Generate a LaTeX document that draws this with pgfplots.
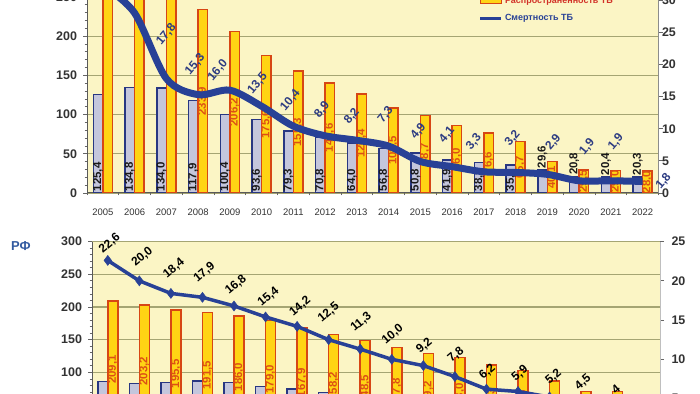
\documentclass[border=0pt]{standalone}
\usepackage{pgfplots}
\pgfplotsset{compat=1.18}
\usepackage{pgfplotstable}
\usepackage{fontspec}
\setmainfont{Liberation Sans}

\definecolor{bgyellow}{RGB}{251,245,197}
\definecolor{gridc}{RGB}{165,165,115}
\definecolor{greyfill}{RGB}{196,198,220}
\definecolor{barblue}{RGB}{40,55,130}
\definecolor{yelfill}{RGB}{255,212,20}
\definecolor{yelborder}{RGB}{215,70,20}
\definecolor{yellabel}{RGB}{220,80,20}
\definecolor{lineblue}{RGB}{40,65,150}
\definecolor{lblblue}{RGB}{45,60,130}
\definecolor{tickc}{RGB}{50,50,50}
\definecolor{rfblue}{RGB}{50,90,160}
\definecolor{redtext}{RGB}{210,50,40}

\pgfplotstableread{
x inc prev
0 125.4 296.9
1 134.8 277.5
2 134.0 261.3
3 117.9 233.9
4 100.4 206.2
5 93.6 175.6
6 79.3 155.3
7 70.8 140.6
8 64.0 126.4
9 56.8 108.5
10 50.8 98.7
11 41.9 86.0
12 38.8 76.6
13 35.9 65.7
14 29.6 40.1
15 20.8 29.5
16 20.4 29.0
17 20.3 28.0
}\topbars

\pgfplotstableread{
x y dx dy label
0 32.3 0 30 32,3
1 28.0 0 30 28,0
2 17.8 0 44 17,8
3 15.3 -3 30 15,3
4 16.0 -12 20 16,0
5 13.5 -4 23 13,5
6 10.4 -3 26 10,4
7 8.9 -3 26 8,9
8 8.2 -5 24 8,2
9 7.3 -3 31 7,3
10 4.9 -2 30 4,9
11 4.1 -5 32 4,1
12 3.3 -10 30 3,3
13 3.2 -3 34 3,2
14 2.9 6 32 2,9
15 1.9 8 34 1,9
16 1.9 5 39 1,9
17 1.8 21 0 1,8
}\topline

\pgfplotstableread{
x inc prev
0 85.8 209.1
1 83.3 203.2
2 84.9 195.5
3 86.9 191.5
4 84.3 186.0
5 78.2 179.0
6 74.6 167.9
7 69.0 158.2
8 63.0 148.5
9 59.0 137.8
10 57.0 129.2
11 53.0 123.0
12 48.0 111.3
13 44.0 102.6
14 41.0 86.9
15 32.0 70.5
16 31.0 70.5
}\botbars

\pgfplotstableread{
x y dx dy label
0 22.6 2 17 22,6
1 20.0 3 24 20,0
2 18.4 3 25 18,4
3 17.9 2 25 17,9
4 16.8 2 21 16,8
5 15.4 3 20 15,4
6 14.2 3 20 14,2
7 12.5 0 27 12,5
8 11.3 1 27 11,3
9 10.0 1 25 10,0
10 9.2 1 20 9,2
11 7.8 1 22 7,8
12 6.2 1 17 6,2
13 5.9 2 18 5,9
14 5.2 4 20 5,2
15 4.5 2 20 4,5
16 4.0 3 17 4
}\botline

\pgfplotsset{
  chartbase/.style={
    scale only axis, anchor=south west,
    xmin=-0.5, xmax=17.5,
    /pgf/number format/assume math mode=true,
    tick label style={text=tickc},
    yticklabel style={font=\bfseries\fontsize{12.5}{12.5}\selectfont},
    tick align=outside, major tick length=4bp, minor tick length=2.5bp,
    tick style={draw=black!60, line width=0.8bp},
  },
}

\begin{document}
\begin{tikzpicture}
\path[use as bounding box] (0,0) rectangle (700bp,394bp);
\clip (0,0) rectangle (700bp,394bp);

% ---------------- top chart, left axis (bars)
\begin{axis}[chartbase, at={(87bp,201bp)}, width=571.5bp, height=196bp,
  ymin=0, ymax=250, ytick={0,50,...,250}, minor y tick num=4,
  axis background/.style={fill=bgyellow},
  axis x line*=bottom, axis y line*=left,
  axis line style={-, draw=black!65, line width=1bp},
  ymajorgrids, major grid style={draw=gridc, line width=1.2bp},
  xtick={0,...,17},
  xticklabels={2005,2006,2007,2008,2009,2010,2011,2012,2013,2014,2015,2016,2017,2018,2019,2020,2021,2022},
  major x tick style={draw=none}, minor xtick={-0.5,0.5,...,17.5},
  xticklabel style={font=\fontsize{9.5}{9.5}\selectfont, yshift=-8bp},
  yticklabel style={xshift=-2.5bp},
  ybar=0pt, bar width=9.5bp,
]
\addplot[fill=greyfill, draw=barblue, line width=1.5bp,
  point meta=y,
  nodes near coords={\pgfmathprintnumber[fixed,fixed zerofill,precision=1,use comma]{\pgfplotspointmeta}},
  visualization depends on={y \as \rawy},
  every node near coord/.append style={font=\bfseries\fontsize{11.5}{11.5}\selectfont, text=black!90, inner sep=1bp, anchor=west, shift={(axis direction cs:0,{-\rawy*(\rawy>30)})}, rotate=90},
] table[x=x, y=inc] {\topbars};
\addplot[fill=yelfill, draw=yelborder, line width=1.5bp,
  point meta=y,
  nodes near coords={\pgfmathprintnumber[fixed,fixed zerofill,precision=1,use comma]{\pgfplotspointmeta}},
  visualization depends on={y \as \rawy},
  every node near coord/.append style={font=\bfseries\fontsize{11.5}{11.5}\selectfont, text=yellabel, inner sep=1bp, anchor=center, shift={(axis direction cs:0,-\rawy/2)}, rotate=90},
] table[x=x, y=prev] {\topbars};
\end{axis}

% ---------------- top chart, right axis (line)
\begin{axis}[chartbase, at={(87bp,201bp)}, width=571.5bp, height=196bp,
  ymin=0, ymax=30.5, ytick={0,5,...,30},
  axis x line=none, axis y line*=right,
  axis line style={-, draw=black!45, line width=0.8bp},
  yticklabel style={xshift=-4bp},
  legend style={draw=none, fill=none, at={(0.6795,0.85)}, anchor=south west,
    font=\bfseries\fontsize{9}{9}\selectfont, row sep=5.5bp},
  legend cell align=left,
]
\addlegendimage{legend image code/.code={\draw[fill=greyfill,draw=barblue,line width=1bp] (0bp,-3bp) rectangle (21bp,3bp);}}
\addlegendentry[text=barblue]{Заболеваемость ТБ}
\addlegendimage{legend image code/.code={\draw[fill=yelfill,draw=yelborder,line width=1bp] (0bp,-2.5bp) rectangle (21bp,2.5bp);}}
\addlegendentry[text=redtext]{Распространенность ТБ}
\addplot[draw=lineblue, line width=7bp, smooth, tension=0.5,
  point meta=explicit symbolic, nodes near coords,
  visualization depends on={\thisrow{dx} \as \ldx},
  visualization depends on={\thisrow{dy} \as \ldy},
  every node near coord/.append style={anchor=center, xshift=\ldx bp, yshift=\ldy bp, rotate=50,
     font=\bfseries\fontsize{12}{12}\selectfont, text=lblblue, inner sep=0pt},
  legend image code/.code={\draw[line width=3.5bp, lineblue] (0bp,0bp) -- (21bp,0bp);},
] table[x=x, y=y, meta=label] {\topline};
\addlegendentry[text=lineblue]{Смертность ТБ}
\end{axis}

% ---------------- bottom chart, left axis (bars)
\begin{axis}[chartbase, at={(92bp,-43.8bp)}, width=568bp, height=196.2bp,
  ymin=0, ymax=300, ytick={0,50,...,300}, minor y tick num=4,
  axis background/.style={fill=bgyellow},
  axis x line*=bottom, axis y line*=left,
  axis line style={-, draw=black!65, line width=1bp},
  ymajorgrids, major grid style={draw=gridc, line width=1.2bp},
  xtick=\empty,
  yticklabel style={xshift=-2.5bp},
  ybar=0pt, bar width=10bp,
]
\addplot[fill=greyfill, draw=barblue, line width=1.5bp] table[x=x, y=inc] {\botbars};
\addplot[fill=yelfill, draw=yelborder, line width=1.5bp,
  point meta=y,
  nodes near coords={\pgfmathprintnumber[fixed,fixed zerofill,precision=1,use comma]{\pgfplotspointmeta}},
  visualization depends on={y \as \rawy},
  every node near coord/.append style={font=\bfseries\fontsize{11.5}{11.5}\selectfont, text=yellabel, inner sep=1bp, anchor=center, shift={(axis direction cs:0,-\rawy/2)}, rotate=90},
] table[x=x, y=prev] {\botbars};
\end{axis}

% ---------------- bottom chart, right axis (line)
\begin{axis}[chartbase, at={(92bp,-43.8bp)}, width=568bp, height=196.2bp,
  ymin=0, ymax=25, ytick={0,5,...,25},
  axis x line=none, axis y line*=right,
  axis line style={-, draw=black!25, line width=0.8bp},
  yticklabel style={xshift=4bp},
]
\addplot[draw=lineblue, line width=3.5bp, mark=diamond*, mark size=5bp,
  mark options={fill=lineblue, draw=lineblue, line width=0.5bp},
  point meta=explicit symbolic, nodes near coords,
  visualization depends on={\thisrow{dx} \as \ldx},
  visualization depends on={\thisrow{dy} \as \ldy},
  every node near coord/.append style={anchor=center, xshift=\ldx bp, yshift=\ldy bp, rotate=40,
     font=\bfseries\fontsize{12}{12}\selectfont, text=black, inner sep=0pt},
] table[x=x, y=y, meta=label] {\botline};
\end{axis}

\node[font=\bfseries\fontsize{13}{13}\selectfont, text=rfblue] at (21bp,148bp) {РФ};
\end{tikzpicture}
\end{document}
